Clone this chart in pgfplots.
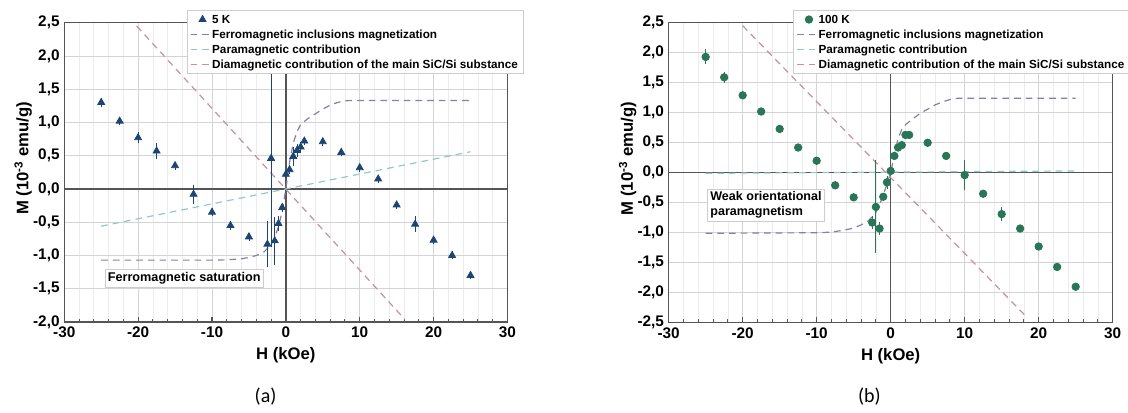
\documentclass[border=0pt]{standalone}
\usepackage{fontspec}
\setmainfont{Liberation Sans}
\newfontfamily\capfont{Carlito}
\usepackage{pgfplots}
\pgfplotsset{compat=1.18}

\definecolor{mkA}{RGB}{29,68,115}
\definecolor{mkB}{RGB}{40,118,86}
\definecolor{ferro}{RGB}{135,125,170}
\definecolor{para}{RGB}{142,203,198}
\definecolor{dia}{RGB}{199,144,158}
\definecolor{gridc}{RGB}{212,212,212}
\definecolor{gridm}{RGB}{236,236,236}
\definecolor{axc}{RGB}{85,85,85}
\definecolor{legc}{RGB}{205,205,205}

\pgfplotsset{
  panel/.style={
    scale only axis, anchor=south west,
    xmin=-30, xmax=30, xtick={-30,-20,...,30}, minor x tick num=4,
    xmajorgrids, ymajorgrids, xminorgrids,
    major grid style={draw=gridc, line width=0.6pt},
    minor grid style={draw=gridm, line width=0.5pt},
    axis line style={draw=axc, line width=1pt},
    tick align=inside, xtick pos=bottom, ytick pos=left,
    major tick length=4pt, minor tick length=2.5pt,
    xtick style={axc, line width=0.8pt}, ytick style={draw=none},
    /pgf/number format/assume math mode=true,
    tick label style={font=\bfseries\fontsize{11.5}{13}\selectfont},
    yticklabel style={/pgf/number format/.cd, fixed, fixed zerofill, precision=1, use comma},
    xlabel={H (kOe)}, ylabel={M (10\textsuperscript{-3} emu/g)},
    label style={font=\bfseries\fontsize{12.5}{14}\selectfont},
    xlabel style={at={(axis description cs:0.5,-0.11)}, anchor=center},
    ylabel style={at={(axis description cs:-0.0925,0.547)}, anchor=center},
    legend cell align=left,
    legend style={anchor=north west, draw=legc, fill=white,
      font=\bfseries\fontsize{8.8}{10}\selectfont,
      inner xsep=2pt, inner ysep=1.5pt, row sep=0.55pt,
      nodes={inner ysep=0.6pt, inner xsep=2pt, text height=8pt, text depth=1.5pt}},
  },
  dashline/.style={line width=0.9pt, dash pattern=on 5pt off 3.75pt,
    legend image code/.code={\draw[##1] (0pt,0pt) -- (13.75pt,0pt);}},
  dots/.style={only marks, line width=0.6pt,
    legend image code/.code={\draw[##1] plot coordinates {(9pt,0pt)};}},
}

\begin{document}
\begin{tikzpicture}

% ---------- (a) 5 K ----------
\begin{axis}[panel,
  at={(48.2pt,68.25pt)}, width=332.4pt, height=224.5pt,
  ymin=-2, ymax=2.5, ytick={-2,-1.5,...,2.5},
  legend style={at={(rel axis cs:0.277,1.042)}},
]
\addlegendimage{dots, mark=triangle*, mark size=3pt, color=mkA}
\addlegendentry{5 K}
\addlegendimage{dashline, ferro}
\addlegendentry{Ferromagnetic inclusions magnetization}
\addlegendimage{dashline, para}
\addlegendentry{Paramagnetic contribution}
\addlegendimage{dashline, dia}
\addlegendentry{Diamagnetic contribution of the main SiC/Si substance}

\draw[axc, line width=1pt] (axis cs:-30,0) -- (axis cs:30,0);
\draw[axc, line width=1pt] (axis cs:0,-2) -- (axis cs:0,2.5);

\addplot[dashline, ferro, forget plot] coordinates {
  (-25,-1.07) (-10,-1.07) (-8,-1.065) (-6,-1.05) (-5,-1.03) (-4,-1.0)
  (-3,-0.95) (-2,-0.84) (-1.5,-0.72) (-1,-0.57) (-0.5,-0.33) (0,0)
  (0.5,0.4) (1,0.69) (1.5,0.86) (2,0.97) (3,1.06) (4,1.13) (5,1.2)
  (6,1.26) (7,1.3) (8,1.325) (9,1.33) (25,1.33)
};
\addplot[dashline, para, forget plot] coordinates {(-25,-0.56) (25,0.56)};
\addplot[dashline, dia, forget plot] coordinates {(-20.2,2.45) (16.1,-1.96)};

\addplot[dots, mark=triangle*, mark size=3pt, color=mkA, forget plot,
  error bars/.cd, y dir=both, y explicit,
  error bar style={line width=0.6pt}, error mark options={mkA, mark size=2pt, line width=0.6pt}]
coordinates {
  (-25,1.30) +- (0,0.03)
  (-22.5,1.02) +- (0,0.02)
  (-20,0.77) +- (0,0.04)
  (-17.5,0.57) +- (0,0.08)
  (-15,0.35) +- (0,0.02)
  (-12.5,-0.08) +- (0,0.10)
  (-10,-0.35) +- (0,0.02)
  (-7.5,-0.55) +- (0,0.02)
  (-5,-0.72) +- (0,0.02)
  (-2.5,-0.83) +- (0,0.31)
  (-2,0.46) +- (0,1.30)
  (-1.5,-0.78) +- (0,0.32)
  (-1,-0.52) +- (0,0.07)
  (-0.5,-0.28) +- (0,0.03)
  (0,0.22) +- (0,0.02)
  (0.5,0.29) +- (0,0.03)
  (1,0.49) +- (0,0.10)
  (1.5,0.58) +- (0,0.06)
  (2,0.63) +- (0,0.04)
  (2.5,0.72) +- (0,0.02)
  (5,0.71) +- (0,0.02)
  (7.5,0.55) +- (0,0.02)
  (10,0.32) +- (0,0.02)
  (12.5,0.15) +- (0,0.02)
  (15,-0.24) +- (0,0.02)
  (17.5,-0.53) +- (0,0.08)
  (20,-0.77) +- (0,0.02)
  (22.5,-1.00) +- (0,0.02)
  (25,-1.30) +- (0,0.02)
};

\node[draw=legc, fill=white, anchor=north west, inner xsep=2pt, inner ysep=2.5pt,
  font=\bfseries\fontsize{9.5}{11}\selectfont] at (axis cs:-24.5,-1.2)
  {Ferromagnetic saturation};
\end{axis}

% ---------- (b) 100 K ----------
\begin{axis}[panel,
  at={(501.5pt,67.7pt)}, width=333pt, height=225pt,
  ymin=-2.5, ymax=2.5, ytick={-2.5,-2,...,2.5},
  legend style={at={(rel axis cs:0.281,1.042)}},
]
\addlegendimage{dots, mark=*, mark size=2.8pt, color=mkB}
\addlegendentry{100 K}
\addlegendimage{dashline, ferro}
\addlegendentry{Ferromagnetic inclusions magnetization}
\addlegendimage{dashline, para}
\addlegendentry{Paramagnetic contribution}
\addlegendimage{dashline, dia}
\addlegendentry{Diamagnetic contribution of the main SiC/Si substance}

\draw[axc, line width=1pt] (axis cs:-30,0) -- (axis cs:30,0);
\draw[axc, line width=1pt] (axis cs:0,-2.5) -- (axis cs:0,2.5);

\addplot[dashline, ferro, forget plot] coordinates {
  (-25,-1.01) (-10,-1.0) (-8,-0.99) (-6,-0.95) (-5,-0.92) (-4,-0.87)
  (-3,-0.8) (-2,-0.66) (-1.5,-0.53) (-1,-0.37) (-0.5,-0.19) (0,0)
  (0.5,0.3) (1,0.57) (1.5,0.72) (2,0.8) (3,0.9) (4,0.99) (5,1.06)
  (6,1.13) (7,1.18) (8,1.22) (9,1.24) (25,1.24)
};
\addplot[dashline, para, forget plot] coordinates {(-25,-0.01) (25,0.03)};
\addplot[dashline, dia, forget plot] coordinates {(-20,2.45) (18.5,-2.42)};

\addplot[dots, mark=*, mark size=2.8pt, color=mkB, forget plot,
  error bars/.cd, y dir=both, y explicit,
  error bar style={line width=0.6pt}, error mark options={mkB, mark size=2pt, line width=0.6pt}]
coordinates {
  (-25,1.93) +- (0,0.08)
  (-22.5,1.59) +- (0,0.05)
  (-20,1.29) +- (0,0.02)
  (-17.5,1.02) +- (0,0.02)
  (-15,0.73) +- (0,0.02)
  (-12.5,0.42) +- (0,0.02)
  (-10,0.20) +- (0,0.02)
  (-7.5,-0.21) +- (0,0.02)
  (-5,-0.41) +- (0,0.02)
  (-2.5,-0.83) +- (0,0.07)
  (-2,-0.57) +- (0,0.73)
  (-1.5,-0.93) +- (0,0.06)
  (-1,-0.40) +- (0,0.02)
  (-0.5,-0.16) +- (0,0.06)
  (0,0.03) +- (0,0.02)
  (0.5,0.28) +- (0,0.02)
  (1,0.42) +- (0,0.02)
  (1.5,0.46) +- (0,0.02)
  (2,0.63) +- (0,0.02)
  (2.5,0.63) +- (0,0.02)
  (5,0.50) +- (0,0.02)
  (7.5,0.28) +- (0,0.02)
  (10,-0.04) +- (0,0.21)
  (12.5,-0.35) +- (0,0.02)
  (15,-0.69) +- (0,0.07)
  (17.5,-0.93) +- (0,0.02)
  (20,-1.23) +- (0,0.02)
  (22.5,-1.57) +- (0,0.02)
  (25,-1.90) +- (0,0.02)
};

\node[draw=legc, fill=white, anchor=north west, inner xsep=2pt, inner ysep=2.1pt,
  align=left, font=\bfseries\fontsize{9.4}{11.5}\selectfont] at (axis cs:-24.76,-0.263)
  {Weak orientational\\paramagnetism};
\end{axis}

\node[font=\capfont\fontsize{15}{17}\selectfont] at (199.2pt,12.2pt) {(a)};
\node[font=\capfont\fontsize{15}{17}\selectfont] at (652pt,12.2pt) {(b)};

\pgfresetboundingbox
\path[use as bounding box] (0,0) rectangle (846pt,309.75pt);
\end{tikzpicture}
\end{document}
